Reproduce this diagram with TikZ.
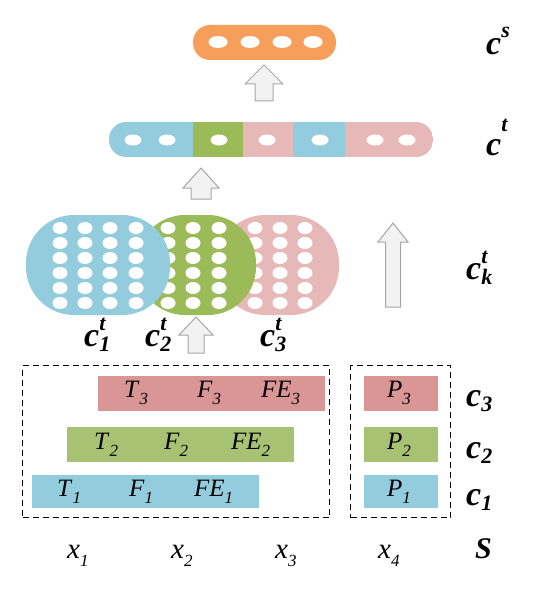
\documentclass[tikz,border=0pt]{standalone}
\usepackage{fontspec}
\setmainfont{Liberation Serif}

\definecolor{cblue}{HTML}{93CDDD}
\definecolor{cgreen}{HTML}{9BBB59}
\definecolor{cgreenbar}{HTML}{A8C274}
\definecolor{cpink}{HTML}{E6B9B8}
\definecolor{cred}{HTML}{D99694}
\definecolor{corange}{HTML}{F79E5A}
\definecolor{arrowline}{HTML}{A6A6A6}
\definecolor{arrowfill}{HTML}{F2F2F2}

% italic symbol with subscript
\newcommand{\sym}[2]{\textit{#1}\raisebox{-.28em}{\fontsize{17}{17}\selectfont\textit{#2}}}
% bold italic label: base, superscript, subscript, raise
\newcommand{\clab}[4]{{\bfseries\itshape #1\rlap{\raisebox{#4}{\fontsize{22}{22}\selectfont #2}}\raisebox{-.15em}{\fontsize{22}{22}\selectfont #3}}}
% block arrow: x, tip, bottom, head half width, shaft half width, head length
\newcommand{\blockup}[6]{%
  \draw[arrowline, fill=arrowfill, line width=1pt, line join=miter]
    ({#1-#5},#3) -- ({#1-#5},{#2+#6}) -- ({#1-#4},{#2+#6}) -- (#1,#2)
    -- ({#1+#4},{#2+#6}) -- ({#1+#5},{#2+#6}) -- ({#1+#5},#3) -- cycle;}

\tikzset{
  bar/.style={anchor=west, minimum height=35pt, minimum width=227pt, inner sep=0pt, outer sep=0pt},
  pbar/.style={anchor=west, minimum height=35pt, minimum width=74pt, inner sep=0pt, outer sep=0pt},
  txt/.style={anchor=base west, inner sep=0pt, font=\fontsize{25}{25}\selectfont},
  xtxt/.style={anchor=base west, inner sep=0pt, font=\fontsize{29}{29}\selectfont},
  clabel/.style={anchor=base west, inner sep=0pt, font=\fontsize{34}{34}\selectfont},
  dot/.style={fill=white},
  box/.style={draw, line width=1.3pt, dash pattern=on 6pt off 4pt}
}

\begin{document}
\begin{tikzpicture}[x=1pt, y=-1pt]
	\useasboundingbox (0,0) rectangle (557,599);
	% output vector c^s
	\fill[corange, rounded corners=17pt] (193,25) rectangle (336,60);
	\foreach \x in {218,250,282,313} {\fill[dot] (\x,42) ellipse (9.5pt and 6pt);}
	\node[clabel] (cs) at (486,55) {\clab{c}{s}{}{.5em}};
	% concatenated vector c^t
	\begin{scope}
		\clip[rounded corners=17pt] (109,122) rectangle (433,157);
		\fill[cblue] (109,122) rectangle (193,157);
		\fill[cgreen] (193,122) rectangle (243,157);
		\fill[cpink] (243,122) rectangle (293,157);
		\fill[cblue] (293,122) rectangle (345,157);
		\fill[cpink] (345,122) rectangle (433,157);
	\end{scope}
	\foreach \x in {133,167,219,267,320,375,407} {\fill[dot] (\x,140) ellipse (8.5pt and 5.5pt);}
	\node[clabel] (ct) at (486,155) {\clab{c}{t}{}{.7em}};
	% arrows
	\blockup{264}{65}{101}{19}{9}{19}
	\blockup{201}{168}{199}{18}{10}{20}
	\blockup{196}{317}{353}{17}{8}{18}
	\blockup{393}{223}{307}{15}{7.5}{19}
	% type vectors c_k^t
	\fill[cpink, rounded corners=48pt] (217,215) rectangle (339,315);
	\foreach \x in {230,255,280,305} {\foreach \y in {228,243,258,273,288,303} {\fill[dot] (\x,\y) ellipse (7.5pt and 6pt);}}
	\fill[cgreen, rounded corners=48pt] (137,215) rectangle (256,315);
	\foreach \x in {143,168,193,219} {\foreach \y in {228,243,258,273,288,303} {\fill[dot] (\x,\y) ellipse (7.5pt and 6pt);}}
	\fill[cblue, rounded corners=48pt] (26,215) rectangle (170,315);
	\foreach \x in {60,85,110,136} {\foreach \y in {228,243,258,273,288,303} {\fill[dot] (\x,\y) ellipse (7.5pt and 6pt);}}
	\node[clabel] (c1t) at (84,346) {\clab{c}{t}{1}{.45em}};
	\node[clabel] (c2t) at (145,346) {\clab{c}{t}{2}{.45em}};
	\node[clabel] (c3t) at (260,346) {\clab{c}{t}{3}{.45em}};
	\node[clabel] (ckt) at (466,279) {\clab{c}{t}{k}{.45em}};
	% sentence pieces
	\node[box, minimum width=307pt, minimum height=152pt, anchor=north west] (sbox) at (22,365) {};
	\node[box, minimum width=100pt, minimum height=152pt, anchor=north west] (pbox) at (350,365) {};
	\node[bar, fill=cred] (s3) at (98,393.5) {};
	\node[bar, fill=cgreenbar] (s2) at (67,444.5) {};
	\node[bar, fill=cblue, minimum height=33pt] (s1) at (32,491.5) {};
	\node[pbar, fill=cred] (p3) at (364,393.5) {};
	\node[pbar, fill=cgreenbar] (p2) at (364,444.5) {};
	\node[pbar, fill=cblue, minimum height=33pt] (p1) at (364,491.5) {};
	\node[txt] (t3) at (124,397) {\sym{T}{3}};
	\node[txt] (f3) at (197,397) {\sym{F}{3}};
	\node[txt] (fe3) at (261,397) {\sym{FE}{3}};
	\node[txt] (t2) at (94,449) {\sym{T}{2}};
	\node[txt] (f2) at (164,449) {\sym{F}{2}};
	\node[txt] (fe2) at (231,449) {\sym{FE}{2}};
	\node[txt] (t1) at (57,496) {\sym{T}{1}};
	\node[txt] (f1) at (129,496) {\sym{F}{1}};
	\node[txt] (fe1) at (194,496) {\sym{FE}{1}};
	\node[txt] (pt3) at (387,397) {\sym{P}{3}};
	\node[txt] (pt2) at (387,449) {\sym{P}{2}};
	\node[txt] (pt1) at (387,496) {\sym{P}{1}};
	\node[clabel] (c3) at (466,406) {\clab{c}{}{3}{0pt}};
	\node[clabel] (c2) at (466,458) {\clab{c}{}{2}{0pt}};
	\node[clabel] (c1) at (466,505) {\clab{c}{}{1}{0pt}};
	% words
	\node[xtxt] (x1) at (67,558) {\sym{x}{1}};
	\node[xtxt] (x2) at (171,558) {\sym{x}{2}};
	\node[xtxt] (x3) at (275,558) {\sym{x}{3}};
	\node[xtxt] (x4) at (378,558) {\sym{x}{4}};
	\node[clabel, font=\fontsize{30}{30}\selectfont] (s) at (475,558) {\textbf{\textit{S}}};
\end{tikzpicture}
\end{document}
